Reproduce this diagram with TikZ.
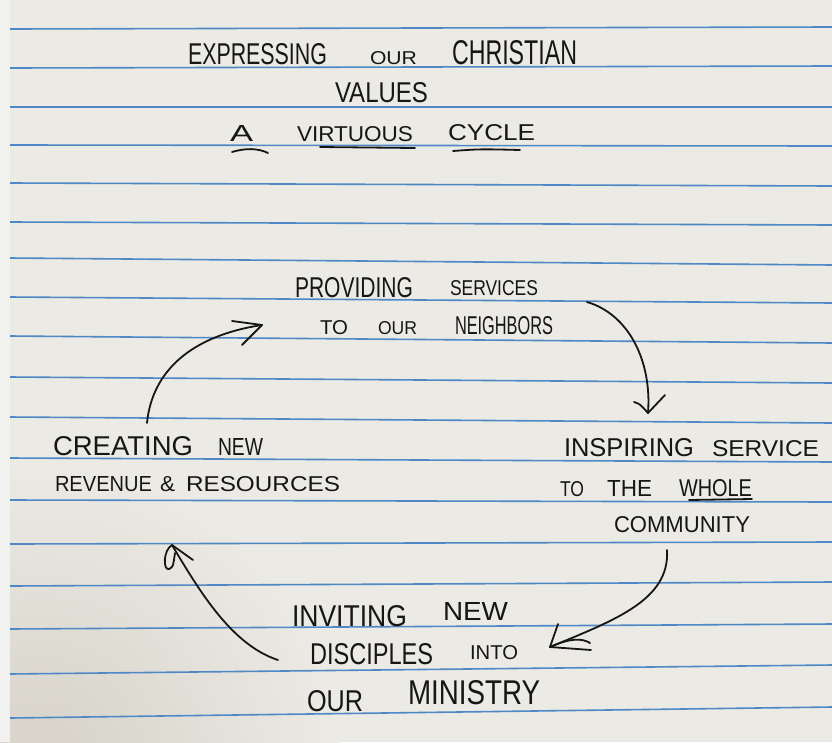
\documentclass[tikz,border=0pt]{standalone}
\usepackage{fontspec}
\setmainfont{Liberation Sans}
\usepackage{graphicx}
\definecolor{paperc}{HTML}{ECEAE4}
\definecolor{shadowc}{HTML}{D6D2C9}
\definecolor{stripc}{HTML}{F1F1EF}
\definecolor{rulec}{HTML}{4F88C6}
\definecolor{inkc}{HTML}{161616}
\newcommand\hwd[3]{\resizebox{#1pt}{#2pt}{#3}}
\begin{document}
\begin{tikzpicture}[x=1pt,y=-1pt,
  ink/.style={draw=inkc, line width=1.8pt, line cap=round, line join=round},
  rulestyle/.style={draw=rulec, line width=1.6pt},
  lbl/.style={anchor=south west, inner sep=0pt, outer sep=0pt, text=inkc}]
\useasboundingbox (0,0) rectangle (832,742);
% paper
\fill[paperc] (0,0) rectangle (832,742);
\begin{scope}
\clip (0,0) rectangle (832,742);
\shade[inner color=shadowc, outer color=paperc] (40,760) circle (300);
\end{scope}
\fill[stripc] (0,0) rectangle (10,742);
% ruled lines
\foreach \a/\b in {29/27,68/66,107/107,145/146,183/186,222/225,258/265,297/303,336/343,377/383,417/423,458/462,500/502,544/542,586/582,629/624,674/665,718/707}
  \draw[rulestyle] (10,\a) -- (832,\b);
% title
\node[lbl] (t1) at (188,65) {\hwd{139}{21}{EXPRESSING}\hspace{43pt}\hwd{47}{13}{OUR}\hspace{35pt}\hwd{125}{24}{CHRISTIAN}};
\node[lbl] (t2) at (335,103) {\hwd{93}{20}{VALUES}};
\node[lbl] (t3) at (230,142) {\hwd{23}{16}{A}\hspace{44pt}\hwd{116}{15}{VIRTUOUS}\hspace{35pt}\raisebox{1pt}{\hwd{87}{16}{CYCLE}}};
\draw[ink] (232,152) .. controls (245,148) and (258,148) .. (268,153);
\draw[ink] (320,147) -- (415,148);
\draw[ink] (453,151) .. controls (480,149) .. (520,150);
% providing
\node[lbl] (p1) at (295,298) {\hwd{118}{20}{PROVIDING}\hspace{37pt}\raisebox{2pt}{\hwd{88}{15}{SERVICES}}};
\node[lbl] (p2) at (320,335) {\hwd{28}{14}{TO}\hspace{30pt}\hwd{39}{13}{OUR}\hspace{38pt}\hwd{98}{18}{NEIGHBORS}};
% creating
\node[lbl] (c1) at (53,456) {\hwd{140}{19}{CREATING}\hspace{25pt}\hwd{45}{17}{NEW}};
\node[lbl] (c2) at (55,492) {\hwd{97}{15}{REVENUE}\hspace{8pt}\hwd{15}{15}{\&}\hspace{11pt}\hwd{154}{15}{RESOURCES}};
% inspiring
\node[lbl] (i1) at (564,457) {\hwd{130}{18}{INSPIRING}\hspace{18pt}\hwd{107}{16}{SERVICE}};
\node[lbl] (i2) at (560,497) {\hwd{24}{15}{TO}\hspace{23pt}\hwd{45}{16}{THE}\hspace{27pt}\hwd{73}{17}{WHOLE}};
\draw[ink] (689,500) -- (752,499);
\node[lbl] (i3) at (614,533) {\hwd{136}{16}{COMMUNITY}};
% inviting
\node[lbl] (v1) at (292,627) {\hwd{115}{21}{INVITING}\hspace{36pt}\raisebox{6pt}{\hwd{65}{18}{NEW}}};
\node[lbl] (v2) at (310,665) {\hwd{123}{21}{DISCIPLES}\hspace{37pt}\raisebox{5pt}{\hwd{48}{14}{INTO}}};
\node[lbl] (v3) at (307,712) {\hwd{56}{21}{OUR}\hspace{45pt}\raisebox{7pt}{\hwd{132}{24}{MINISTRY}}};
% connector end points
\coordinate (a1s) at (147,423); \coordinate (a1e) at (262,325);
\coordinate (a2s) at (587,302); \coordinate (a2e) at (648,413);
\coordinate (a3s) at (667,550); \coordinate (a3e) at (550,647);
\coordinate (a4s) at (278,660); \coordinate (a4e) at (172,545);
% arrow 1: creating -> providing
\draw[ink] (a1s) .. controls (152,372) and (190,336) .. (a1e);
\draw[ink] (232,321) -- (a1e) -- (242,345);
% arrow 2: providing -> inspiring
\draw[ink] (a2s) .. controls (628,314) and (652,360) .. (a2e);
\draw[ink] (634,402) .. controls (640,404) .. (a2e) -- (665,395);
% arrow 3: community -> inviting
\draw[ink] (a3s) .. controls (670,600) and (615,620) .. (a3e);
\draw[ink] (558,624) -- (a3e) -- (591,650);
\draw[ink] (a3e) .. controls (570,638) and (582,638) .. (590,643);
% arrow 4: inviting -> creating
\draw[ink] (a4s) .. controls (232,645) and (200,592) .. (a4e);
\draw[ink] (a4e) -- (193,560);
\draw[ink] (a4e) .. controls (163,550) and (163,571) .. (169,569) .. controls (173,567) .. (175,553);
\end{tikzpicture}
\end{document}
